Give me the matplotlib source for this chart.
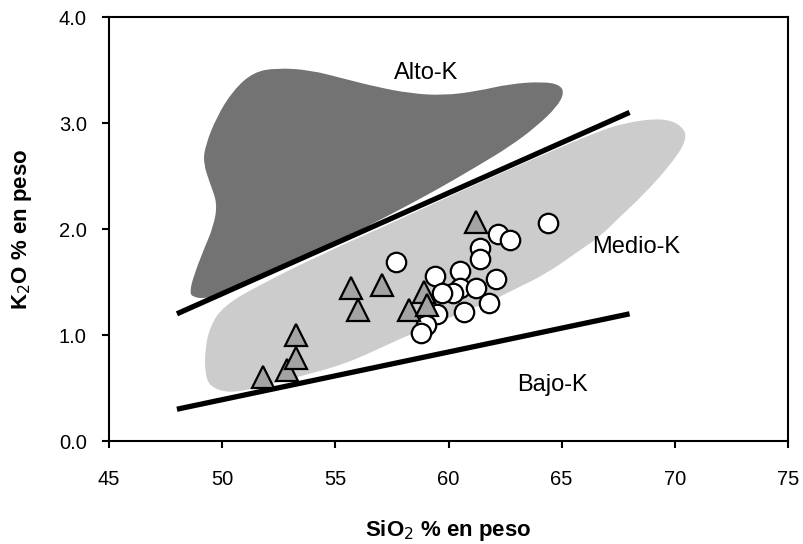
import matplotlib
matplotlib.use("Agg")
import matplotlib.pyplot as plt
from matplotlib.ticker import FormatStrFormatter
from matplotlib.path import Path
from matplotlib.patches import PathPatch

plt.rcParams['font.family'] = ['Liberation Sans', 'DejaVu Sans']

# campo Alto-K (contorno, SiO2 vs K2O)
alto_x = [48.65, 49.32, 50.94, 53.14, 55.35, 57.56, 59.48, 61.25, 62.72, 63.90,
          64.78, 65.11, 64.93, 64.19, 62.72, 61.25, 59.77, 58.30, 56.83, 55.35,
          53.88, 52.41, 51.38, 50.49, 49.76, 49.24, 49.17, 49.46, 49.79, 49.61,
          49.17, 48.73, 48.58]
alto_y = [1.36, 1.34, 1.46, 1.68, 1.91, 2.15, 2.37, 2.59, 2.78, 2.97,
          3.15, 3.28, 3.36, 3.39, 3.37, 3.30, 3.26, 3.28, 3.34, 3.42,
          3.50, 3.52, 3.48, 3.31, 3.06, 2.78, 2.62, 2.43, 2.24, 2.02,
          1.80, 1.55, 1.42]

# campo Medio-K
medio_x = [49.24, 49.24, 49.46, 50.04, 51.53, 54.47, 57.42, 60.36, 63.31, 66.25,
           67.71, 69.48, 70.36, 70.54, 69.79, 68.60, 67.50, 66.70, 65.80, 64.34,
           63.00, 61.97, 60.00, 57.71, 55.50, 53.44, 51.67, 50.35, 49.46]
medio_y = [0.64, 0.86, 1.08, 1.27, 1.46, 1.77, 2.05, 2.34, 2.62, 2.89,
           3.00, 3.05, 2.97, 2.84, 2.60, 2.32, 2.10, 1.93, 1.80, 1.58,
           1.44, 1.33, 1.16, 0.95, 0.73, 0.61, 0.51, 0.45, 0.51]

# límites entre series
lim_x = [48, 68]
lim_alto_y = [1.2, 3.1]
lim_bajo_y = [0.3, 1.2]

# muestras
tri_x = [51.8, 52.85, 53.25, 53.25, 55.7, 56.0, 57.05, 58.25, 58.9, 59.05, 61.2]
tri_y = [0.60, 0.67, 0.78, 1.00, 1.44, 1.24, 1.47, 1.24, 1.41, 1.28, 2.07]

circ_x = [64.4, 62.2, 62.7, 61.4, 61.4, 57.7, 59.4, 60.5, 62.1, 60.5,
          61.2, 60.2, 59.7, 61.8, 60.7, 59.5, 59.0, 58.8]
circ_y = [2.06, 1.95, 1.90, 1.82, 1.72, 1.69, 1.56, 1.60, 1.53, 1.44,
          1.44, 1.40, 1.40, 1.30, 1.22, 1.20, 1.09, 1.02]


def smooth_patch(xs, ys, **kw):
    # contorno cerrado suavizado con curvas cuadráticas entre puntos medios
    pts = list(zip(xs, ys))
    n = len(pts)
    mid = lambda a, b: ((a[0] + b[0]) / 2, (a[1] + b[1]) / 2)
    verts = [mid(pts[-1], pts[0])]
    codes = [Path.MOVETO]
    for i in range(n):
        verts += [pts[i], mid(pts[i], pts[(i + 1) % n])]
        codes += [Path.CURVE3, Path.CURVE3]
    return PathPatch(Path(verts, codes), **kw)


fig = plt.figure(figsize=(8.04, 5.44), dpi=100)
ax = fig.add_axes([0.1356, 0.1893, 0.8445, 0.7794])

ax.add_patch(smooth_patch(alto_x, alto_y, facecolor='#737373', lw=0, zorder=1))
ax.add_patch(smooth_patch(medio_x, medio_y, facecolor='#cccccc', lw=0, zorder=1))

ax.plot(lim_x, lim_alto_y, color='black', lw=3.8, solid_capstyle='butt', zorder=2)
ax.plot(lim_x, lim_bajo_y, color='black', lw=3.8, solid_capstyle='butt', zorder=2)

ax.plot(circ_x, circ_y, 'o', ms=14, mfc='white', mec='black', mew=1.6, zorder=3)
ax.plot(tri_x, tri_y, '^', ms=16.5, mfc='#a3a3a3', mec='black', mew=1.6, zorder=4)

ax.text(59.0, 3.47, 'Alto-K', fontsize=17, ha='center', va='center')
ax.text(68.3, 1.83, 'Medio-K', fontsize=17, ha='center', va='center')
ax.text(64.6, 0.53, 'Bajo-K', fontsize=17, ha='center', va='center')

ax.set_xlim(45, 75)
ax.set_ylim(0, 4)
ax.set_xticks(range(45, 76, 5))
ax.set_yticks([0, 1, 2, 3, 4])
ax.yaxis.set_major_formatter(FormatStrFormatter('%.1f'))
ax.tick_params(direction='out', length=5, width=1.5, labelsize=14.5)
ax.tick_params(axis='x', pad=16)
ax.tick_params(axis='y', pad=11)
for s in ax.spines.values():
    s.set_linewidth(1.5)

ax.set_xlabel('SiO$_2$ % en peso', fontsize=16, fontweight='bold', va='center')
ax.set_ylabel('K$_2$O % en peso', fontsize=16, fontweight='bold', va='center')
ax.xaxis.set_label_coords(0.5, -0.21)
ax.yaxis.set_label_coords(-0.128, 0.5)

fig.savefig('out.png', dpi=100)
